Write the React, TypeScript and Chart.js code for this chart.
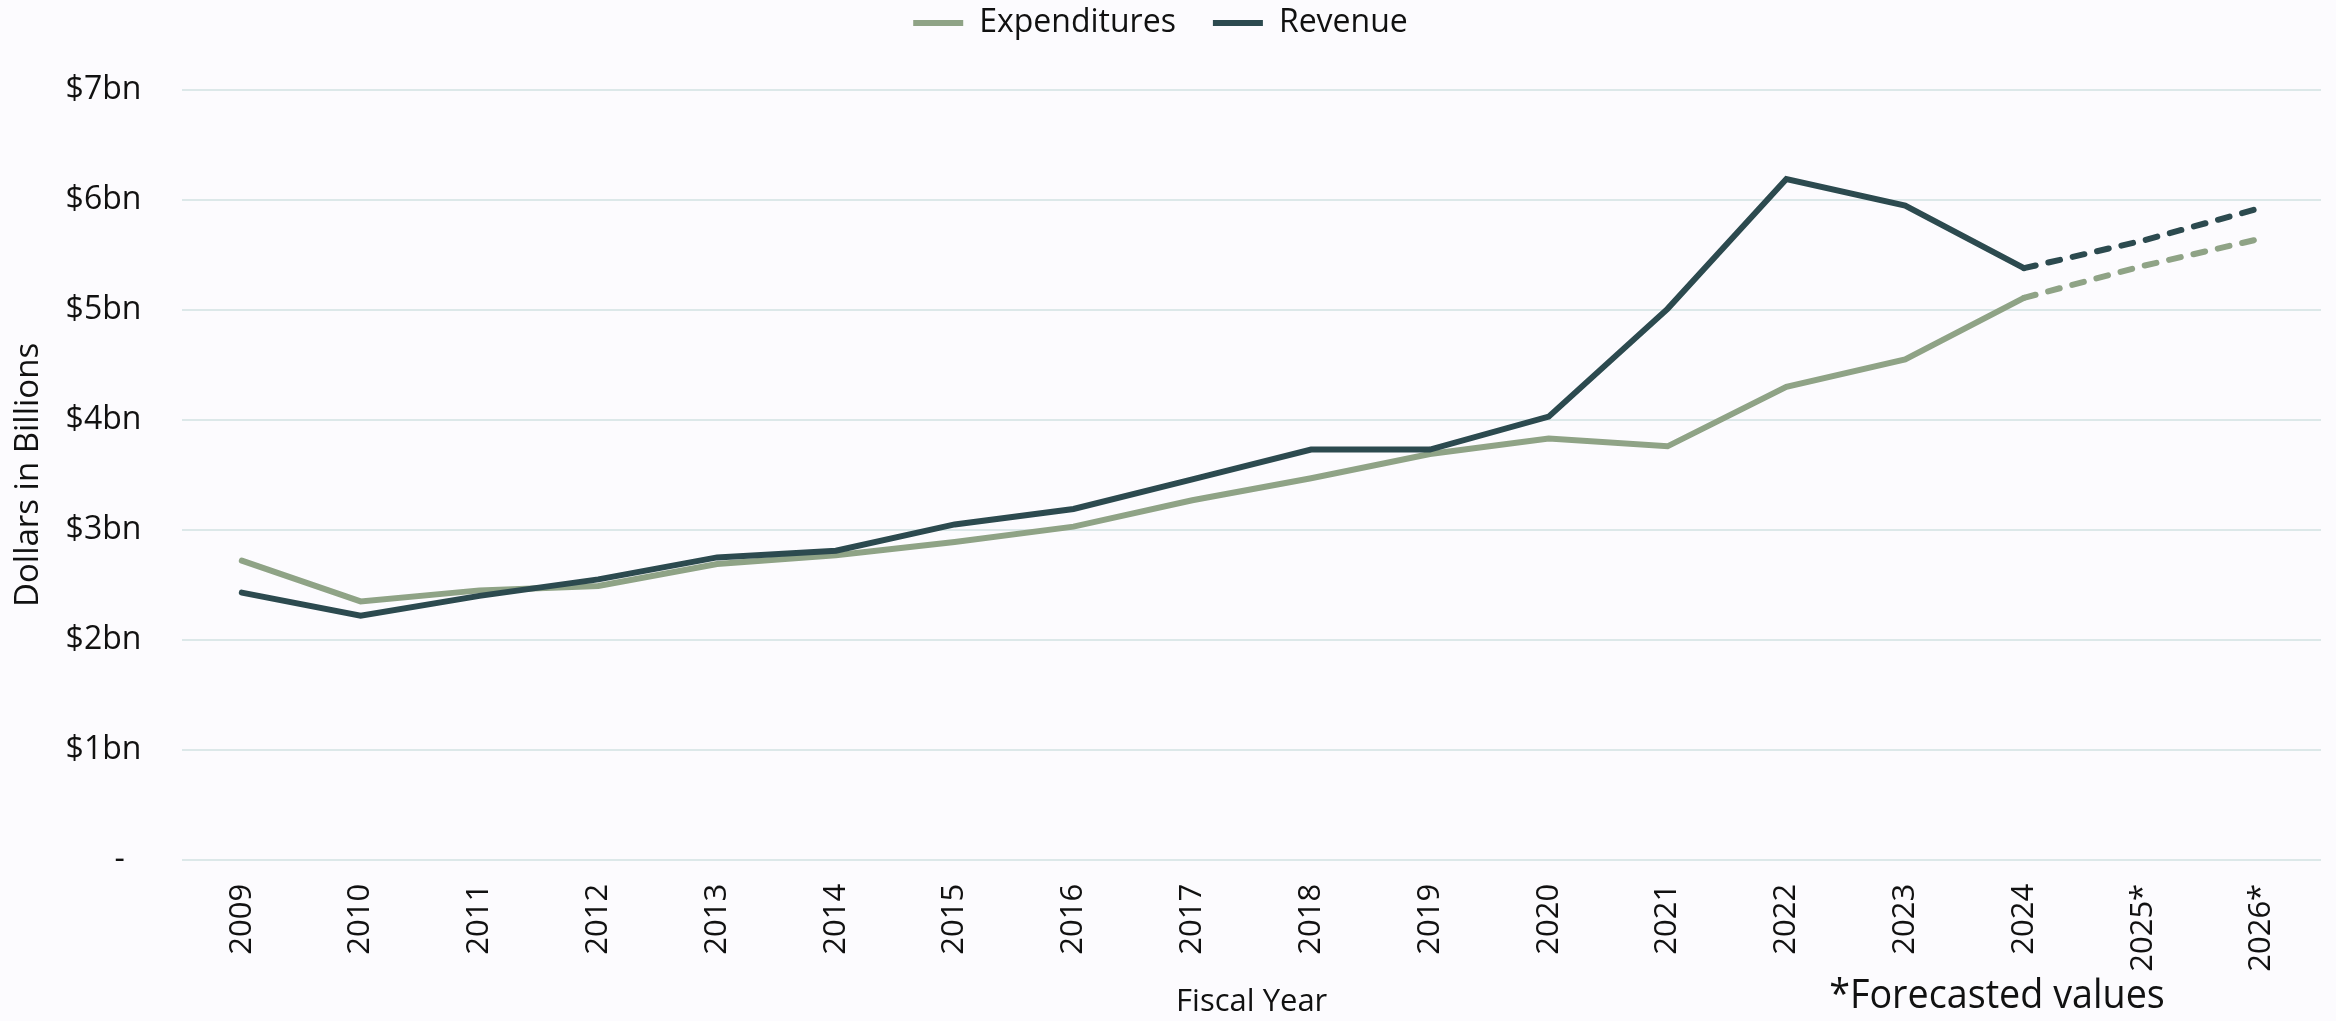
import { useEffect, useRef } from 'react';
import { Chart, registerables } from 'chart.js';

Chart.register(...registerables);

// ---- Data ----
const years = [
  '2009', '2010', '2011', '2012', '2013', '2014', '2015', '2016', '2017',
  '2018', '2019', '2020', '2021', '2022', '2023', '2024', '2025*', '2026*',
];
const expenditures = [
  2.72, 2.35, 2.45, 2.49, 2.69, 2.77, 2.89, 3.03, 3.27,
  3.47, 3.69, 3.83, 3.76, 4.30, 4.55, 5.11, 5.40, 5.65,
];
const revenue = [
  2.43, 2.22, 2.40, 2.55, 2.75, 2.81, 3.05, 3.19, 3.46,
  3.73, 3.73, 4.03, 5.01, 6.19, 5.95, 5.38, 5.63, 5.93,
];
const yTickLabels = ['-  ', '$1bn', '$2bn', '$3bn', '$4bn', '$5bn', '$6bn', '$7bn'];
const forecastFromIndex = 15; // segments after 2024 are forecasts
const footnote = '*Forecasted values';
const yTitle = 'Dollars in Billions';
const xTitle = 'Fiscal Year';

// ---- Styles ----
const BG = '#fcfbfe';
const GRID = '#dce8e9';
const TEXT = '#111111';
const EXP_COLOR = '#8fa386';
const REV_COLOR = '#2c4a4f';
const FONT = '"Open Sans", "Noto Sans", sans-serif';

export default function App() {
  const canvasRef = useRef<HTMLCanvasElement>(null);

  useEffect(() => {
    document.body.style.margin = '0';
    document.body.style.background = BG;
    const canvas = canvasRef.current;
    if (!canvas) return;

    const dash = (ctx: any) => (ctx.p0DataIndex >= forecastFromIndex ? [12, 13] : undefined);

    const bgPlugin = {
      id: 'bgFill',
      beforeDraw(chart: any) {
        const { ctx, width, height } = chart;
        ctx.save();
        ctx.fillStyle = BG;
        ctx.fillRect(0, 0, width, height);
        ctx.restore();
      },
    };

    const legendSpace = {
      id: 'legendSpace',
      beforeInit(chart: any) {
        const origFit = chart.legend.fit;
        chart.legend.fit = function fit() {
          origFit.bind(chart.legend)();
          this.height += 41;
        };
      },
    };

    const notePlugin = {
      id: 'footnote',
      afterDraw(chart: any) {
        const { ctx } = chart;
        const x = chart.scales.x;
        ctx.save();
        ctx.font = `41px ${FONT}`;
        ctx.fillStyle = TEXT;
        ctx.textAlign = 'right';
        ctx.textBaseline = 'middle';
        const rx = x.getPixelForValue(forecastFromIndex + 1) + 22;
        ctx.translate(rx, 996);
        ctx.scale(0.92, 1);
        ctx.fillText(footnote, 0, 0);
        ctx.restore();
      },
    };

    const chart = new Chart(canvas, {
      type: 'line',
      data: {
        labels: years,
        datasets: [
          {
            label: 'Expenditures',
            data: expenditures,
            borderColor: EXP_COLOR,
            backgroundColor: EXP_COLOR,
            borderWidth: 6,
            borderCapStyle: 'round',
            pointRadius: 0,
            pointHoverRadius: 0,
            tension: 0,
            order: 1,
            pointStyle: 'line',
            segment: { borderDash: dash },
          },
          {
            label: 'Revenue',
            data: revenue,
            borderColor: REV_COLOR,
            backgroundColor: REV_COLOR,
            borderWidth: 6,
            borderCapStyle: 'round',
            pointRadius: 0,
            pointHoverRadius: 0,
            tension: 0,
            order: 0,
            pointStyle: 'line',
            segment: { borderDash: dash },
          },
        ],
      },
      options: {
        responsive: false,
        animation: false,
        layout: { padding: { top: -30, right: 15, left: 0, bottom: 0 } },
        plugins: {
          legend: {
            position: 'top',
            labels: {
              usePointStyle: true,
              pointStyleWidth: 50,
              padding: 37,
              color: TEXT,
              font: { family: FONT, size: 32 },
              sort: (a: any, b: any) => a.datasetIndex - b.datasetIndex,
            },
          },
          tooltip: { enabled: false },
        },
        scales: {
          x: {
            type: 'category',
            offset: true,
            grid: { display: false, drawTicks: false },
            border: { display: false },
            ticks: {
              color: TEXT,
              font: { family: FONT, size: 31 },
              minRotation: 90,
              maxRotation: 90,
              autoSkip: false,
              padding: 24,
            },
            title: {
              display: true,
              text: xTitle,
              color: TEXT,
              font: { family: FONT, size: 31 },
              padding: { top: -12, bottom: 0 },
            },
          },
          y: {
            min: 0,
            max: 7,
            grid: { color: GRID, lineWidth: 2, drawTicks: false },
            border: { display: false },
            ticks: {
              stepSize: 1,
              color: TEXT,
              font: { family: FONT, size: 32 },
              padding: 41,
              callback: (_v: any, i: number) => yTickLabels[i],
            },
            title: {
              display: true,
              text: yTitle,
              color: TEXT,
              font: { family: FONT, size: 33 },
              padding: { top: 9, bottom: -24 },
            },
          },
        },
      },
      plugins: [bgPlugin, legendSpace, notePlugin],
    } as any);

    return () => chart.destroy();
  }, []);

  return (
    <div style={{ width: 2336, height: 1021 }}>
      <canvas ref={canvasRef} width={2336} height={1021} style={{ display: 'block' }} />
    </div>
  );
}
